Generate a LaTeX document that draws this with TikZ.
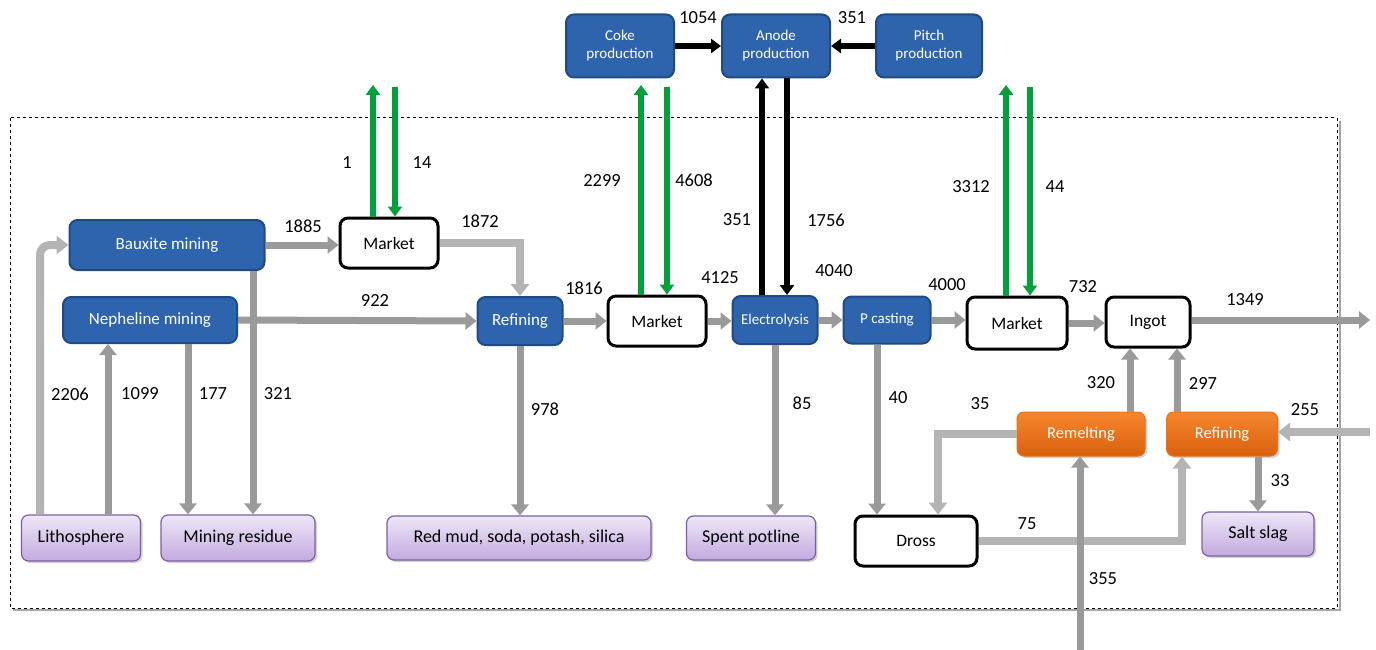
\documentclass[tikz,border=0pt]{standalone}
\usepackage{fontspec}
\setmainfont{Carlito}
\usetikzlibrary{arrows.meta,shadows,calc}

\definecolor{boxblue}{HTML}{2E63AE}
\definecolor{boxblueline}{HTML}{1F4A85}
\definecolor{flowgreen}{HTML}{00A13A}
\definecolor{flowdark}{HTML}{9A9A9A}
\definecolor{flowlight}{HTML}{B4B4B4}
\definecolor{orangetop}{HTML}{F7862E}
\definecolor{orangebot}{HTML}{D9600E}
\definecolor{orangeline}{HTML}{E8731A}
\definecolor{lilactop}{HTML}{EEE7F8}
\definecolor{lilacbot}{HTML}{C2AADF}
\definecolor{lilacline}{HTML}{7D5FA5}

\tikzset{
  procbox/.style={draw=boxblueline, line width=2pt, fill=boxblue, rounded corners=8pt,
    text=white, align=center, inner sep=0pt, font=\fontsize{17}{19}\selectfont},
  smallproc/.style={procbox, font=\fontsize{15}{18}\selectfont},
  marketbox/.style={draw=black, line width=3pt, fill=white, rounded corners=8pt,
    align=center, inner sep=0pt, font=\fontsize{17.5}{19}\selectfont},
  recbox/.style={draw=orangeline, line width=1pt, top color=orangetop, bottom color=orangebot,
    rounded corners=7pt, text=white, inner sep=0pt, font=\fontsize{16.5}{19}\selectfont,
    drop shadow={shadow xshift=2pt, shadow yshift=-2pt, opacity=0.35}},
  sinkbox/.style={draw=lilacline, line width=1.2pt, top color=lilactop, bottom color=lilacbot,
    rounded corners=7pt, inner sep=0pt, font=\fontsize{18}{20}\selectfont,
    drop shadow={shadow xshift=2pt, shadow yshift=-2pt, opacity=0.35}},
  val/.style={font=\fontsize{18.5}{20}\selectfont, inner sep=0pt},
  darkflow/.style={draw=flowdark, line width=7pt, -{Triangle[width=17pt,length=11pt]}},
  lightflow/.style={draw=flowlight, line width=8pt, -{Triangle[width=18pt,length=12pt]}},
  greenflow/.style={draw=flowgreen, line width=6pt, -{Triangle[width=14pt,length=10pt]}},
  blackflow/.style={draw=black, line width=6.5pt, -{Triangle[width=14pt,length=10pt]}},
}

\begin{document}
\begin{tikzpicture}[x=1pt,y=-1pt]
\useasboundingbox (0,0) rectangle (1376,650);

% system boundary
\draw[gray!70, line width=2pt] (1339.5,121) -- (1339.5,610) -- (13,610);
\draw[dashed, line width=1pt] (10,118) rectangle (1337,608);

% processes
\node[procbox, minimum width=195pt, minimum height=50pt] (baux) at (167,245) {Bauxite\ mining};
\node[procbox, minimum width=174pt, minimum height=46pt] (neph) at (150,320) {Nepheline mining};
\node[procbox, minimum width=85pt, minimum height=48pt] (refin) at (520,321) {Refining};
\node[smallproc, minimum width=85pt, minimum height=48pt] (elec) at (775,320) {Electrolysis};
\node[smallproc, minimum width=87pt, minimum height=47pt] (pcast) at (887,320) {P casting};
\node[smallproc, minimum width=108pt, minimum height=63pt] (coke) at (620,46) {Coke\\production};
\node[smallproc, minimum width=108pt, minimum height=63pt] (anode) at (776,46) {Anode\\production};
\node[smallproc, minimum width=106pt, minimum height=63pt] (pitch) at (929,46) {Pitch\\production};

% markets and goods
\node[marketbox, minimum width=98pt, minimum height=50pt] (m1) at (389,243) {Market};
\node[marketbox, minimum width=98pt, minimum height=50pt] (m2) at (657,321) {Market};
\node[marketbox, minimum width=100pt, minimum height=52pt] (m3) at (1017,323) {Market};
\node[marketbox, minimum width=84pt, minimum height=50pt] (ingot) at (1148,322) {Ingot};
\node[marketbox, minimum width=122pt, minimum height=50pt, font=\fontsize{17.5}{19}\selectfont] (dross) at (916,541) {Dross};

% recycling
\node[recbox, minimum width=128pt, minimum height=44pt] (remelt) at (1081,434) {Remelting};
\node[recbox, minimum width=111pt, minimum height=44pt] (refo) at (1222,434) {Refining};

% sinks
\node[sinkbox, minimum width=119pt, minimum height=46pt] (lith) at (81,538) {Lithosphere};
\node[sinkbox, minimum width=154pt, minimum height=46pt] (resid) at (238,538) {Mining residue};
\node[sinkbox, minimum width=264pt, minimum height=44pt] (redmud) at (519,538) {Red mud, soda, potash, silica};
\node[sinkbox, minimum width=129pt, minimum height=44pt] (spent) at (751,538) {Spent potline};
\node[sinkbox, minimum width=112pt, minimum height=44pt] (slag) at (1258,534) {Salt slag};

% free ends
\coordinate (gtop) at (0,85);
\coordinate (gstart) at (0,87);
\coordinate (exitingot) at (1370,320);
\coordinate (scrapin) at (1370,432);
\coordinate (scrapbottom) at (1080,650);

% mining
\draw[lightflow, rounded corners=10pt] ([xshift=-41pt]lith.north) |- (baux.west);
\draw[darkflow] ([xshift=27pt]lith.north) -- ([xshift=27pt]lith.north |- neph.south);
\draw[darkflow] ([xshift=38pt]neph.south) -- ([xshift=38pt]neph.south |- resid.north);
\draw[darkflow] ([xshift=86pt]baux.south) -- ([xshift=86pt]baux.south |- resid.north);
\draw[darkflow] (baux.east) -- (baux.east -| m1.west);
\draw[darkflow] (neph.east) -- (refin.west);
\draw[lightflow] (m1.east) -| (refin.north);

% alumina and primary aluminium
\draw[darkflow] (refin.east) -- (m2.west);
\draw[darkflow] (refin.south) -- (refin.south |- redmud.north);
\draw[darkflow] (m2.east) -- (m2.east -| elec.west);
\draw[darkflow] (elec.east) -- (elec.east -| pcast.west);
\draw[darkflow] (elec.south) -- (elec.south |- spent.north);
\draw[darkflow] (pcast.east) -- (pcast.east -| m3.west);
\draw[darkflow] ([xshift=-10pt]pcast.south) -- ([xshift=-10pt]pcast.south |- dross.north);
\draw[darkflow] (m3.east) -- (m3.east -| ingot.west);
\draw[darkflow] (ingot.east |- exitingot) -- (exitingot);

% recycling loop
\draw[darkflow] ([xshift=49pt]remelt.north) -- ([xshift=49pt]remelt.north |- ingot.south);
\draw[darkflow] ([xshift=-45pt]refo.north) -- ([xshift=-45pt]refo.north |- ingot.south);
\draw[lightflow] (remelt.west) -| ([xshift=22pt]dross.north);
\draw[lightflow] (dross.east) -| ([xshift=-40pt]refo.south);
\draw[lightflow] (scrapin) -- (scrapin -| refo.east);
\draw[darkflow] (scrapbottom) -- (scrapbottom |- remelt.south);
\draw[darkflow] ([xshift=36pt]refo.south) -- ([xshift=36pt]refo.south |- slag.north);

% trade across the boundary
\draw[greenflow] ([xshift=-16pt]m1.north) -- ([xshift=-16pt]m1.north |- gtop);
\draw[greenflow] ([xshift=6pt]m1.north |- gstart) -- ([xshift=6pt]m1.north);
\draw[greenflow] ([xshift=-16pt]m2.north) -- ([xshift=-16pt]m2.north |- gtop);
\draw[greenflow] ([xshift=10pt]m2.north |- gstart) -- ([xshift=10pt]m2.north);
\draw[greenflow] ([xshift=-11pt]m3.north) -- ([xshift=-11pt]m3.north |- gtop);
\draw[greenflow] ([xshift=13pt]m3.north |- gstart) -- ([xshift=13pt]m3.north);

% anodes
\draw[blackflow] (coke.east) -- (anode.west);
\draw[blackflow] (pitch.west) -- (anode.east);
\draw[blackflow] ([xshift=-13pt]elec.north) -- ([xshift=-13pt]elec.north |- anode.south);
\draw[blackflow] ([xshift=12pt]elec.north |- anode.south) -- ([xshift=12pt]elec.north);

% flow values
\node[val] (v2206) at (70,394) {2206};
\node[val] (v1099) at (140,394) {1099};
\node[val] (v177) at (213,394) {177};
\node[val] (v321) at (278,394) {321};
\node[val] (v1885) at (303,226) {1885};
\node[val] (v922) at (375,300) {922};
\node[val] (v1872) at (480,221) {1872};
\node[val] (v1816) at (584,288) {1816};
\node[val] (v978) at (545,409) {978};
\node[val] (v4125) at (720,278) {4125};
\node[val] (v4040) at (834,271) {4040};
\node[val] (v85) at (802,403) {85};
\node[val] (v4000) at (947,285) {4000};
\node[val] (v40) at (898,398) {40};
\node[val] (v732) at (1083,287) {732};
\node[val] (v1349) at (1245,300) {1349};
\node[val] (v320) at (1101,383) {320};
\node[val] (v297) at (1203,383) {297};
\node[val] (v35) at (980,404) {35};
\node[val] (v75) at (1027,524) {75};
\node[val] (v255) at (1305,410) {255};
\node[val] (v355) at (1103,579) {355};
\node[val] (v33) at (1280,481) {33};
\node[val] (v1) at (347,163) {1};
\node[val] (v14) at (422,163) {14};
\node[val] (v2299) at (602,180) {2299};
\node[val] (v4608) at (694,180) {4608};
\node[val] (v3312) at (971,187) {3312};
\node[val] (v44) at (1055,187) {44};
\node[val] (v351a) at (737,220) {351};
\node[val] (v1756) at (826,220) {1756};
\node[val] (v1054) at (698,18) {1054};
\node[val] (v351b) at (852,18) {351};
\end{tikzpicture}
\end{document}
